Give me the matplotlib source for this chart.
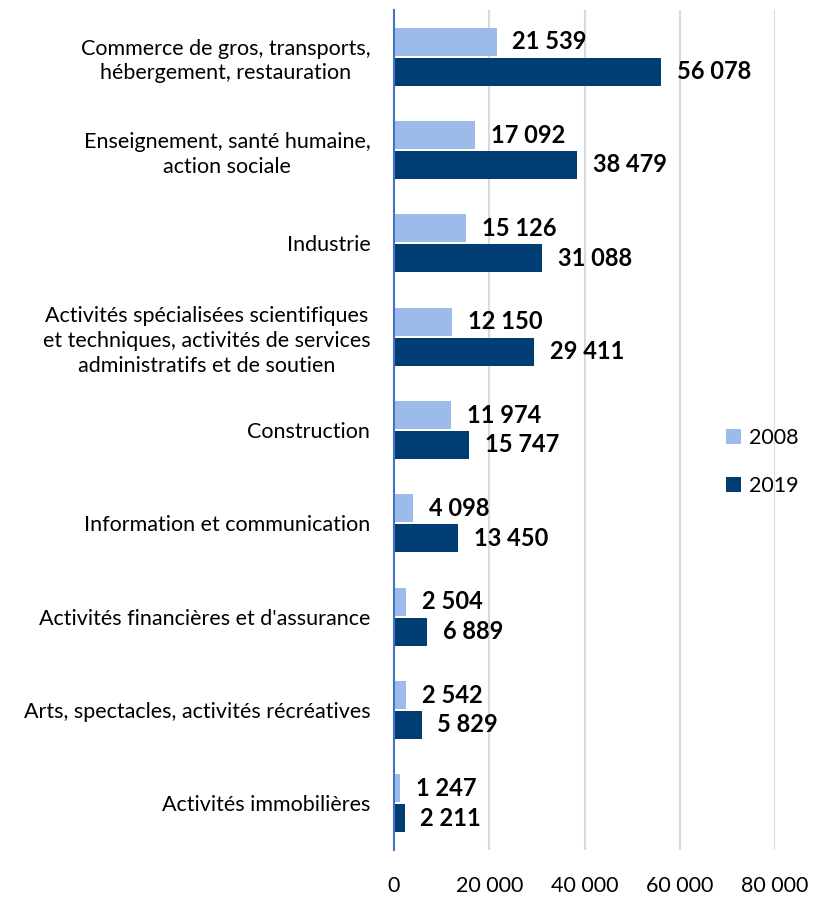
import matplotlib.pyplot as plt
import numpy as np

plt.rcParams['font.family'] = ['Lato', 'DejaVu Sans']

categories = [
    "Commerce de gros, transports,\nhébergement, restauration",
    "Enseignement, santé humaine,\naction sociale",
    "Industrie",
    "Activités spécialisées scientifiques\net techniques, activités de services\nadministratifs et de soutien",
    "Construction",
    "Information et communication",
    "Activités financières et d'assurance",
    "Arts, spectacles, activités récréatives",
    "Activités immobilières",
]
v2008 = [21539, 17092, 15126, 12150, 11974, 4098, 2504, 2542, 1247]
v2019 = [56078, 38479, 31088, 29411, 15747, 13450, 6889, 5829, 2211]

c2008 = "#9dbbea"
c2019 = "#003d73"

def fmt(v):
    return f"{v:,}".replace(",", " ")

fig = plt.figure(figsize=(8.13, 8.98), dpi=100)
ax = fig.add_axes([0.4846, 0.0535, 0.4687, 0.9354])

y = np.arange(len(categories))
h = 0.3
ax.barh(y - h / 2 - 0.01, v2008, height=h, color=c2008, label="2008", zorder=3)
ax.barh(y + h / 2 + 0.01, v2019, height=h, color=c2019, label="2019", zorder=3)

for i in range(len(categories)):
    ax.text(v2008[i] + 3300, y[i] - h / 2 - 0.01, fmt(v2008[i]), va="center", ha="left",
            fontsize=17, fontweight="bold", color="black")
    ax.text(v2019[i] + 3300, y[i] + h / 2 + 0.01, fmt(v2019[i]), va="center", ha="left",
            fontsize=17, fontweight="bold", color="black")

ax.set_xlim(0, 80000)
ax.set_ylim(len(categories) - 0.5, -0.5)
ax.set_xticks([0, 20000, 40000, 60000, 80000])
ax.set_xticklabels([fmt(t) for t in [0, 20000, 40000, 60000, 80000]], fontsize=15.5)
ax.set_yticks(y)
ax.set_yticklabels(categories, fontsize=15.5, linespacing=1.3, multialignment="center")
ax.tick_params(axis="x", length=0, pad=19)
ax.tick_params(axis="y", length=0, pad=17)
ax.grid(axis="x", color="#d9d9d9", linewidth=1.5, zorder=0)
for s in ["top", "right", "bottom"]:
    ax.spines[s].set_visible(False)
ax.spines["left"].set_color("#4472c4")
ax.spines["left"].set_linewidth(1.5)
ax.spines["left"].set_zorder(4)

ax.legend(loc="center left", bbox_to_anchor=(0.82, 0.462), frameon=False, fontsize=15.5,
          handlelength=0.7, handleheight=0.7, handletextpad=0.4, labelspacing=1.3)

fig.savefig("out.png", dpi=100)
